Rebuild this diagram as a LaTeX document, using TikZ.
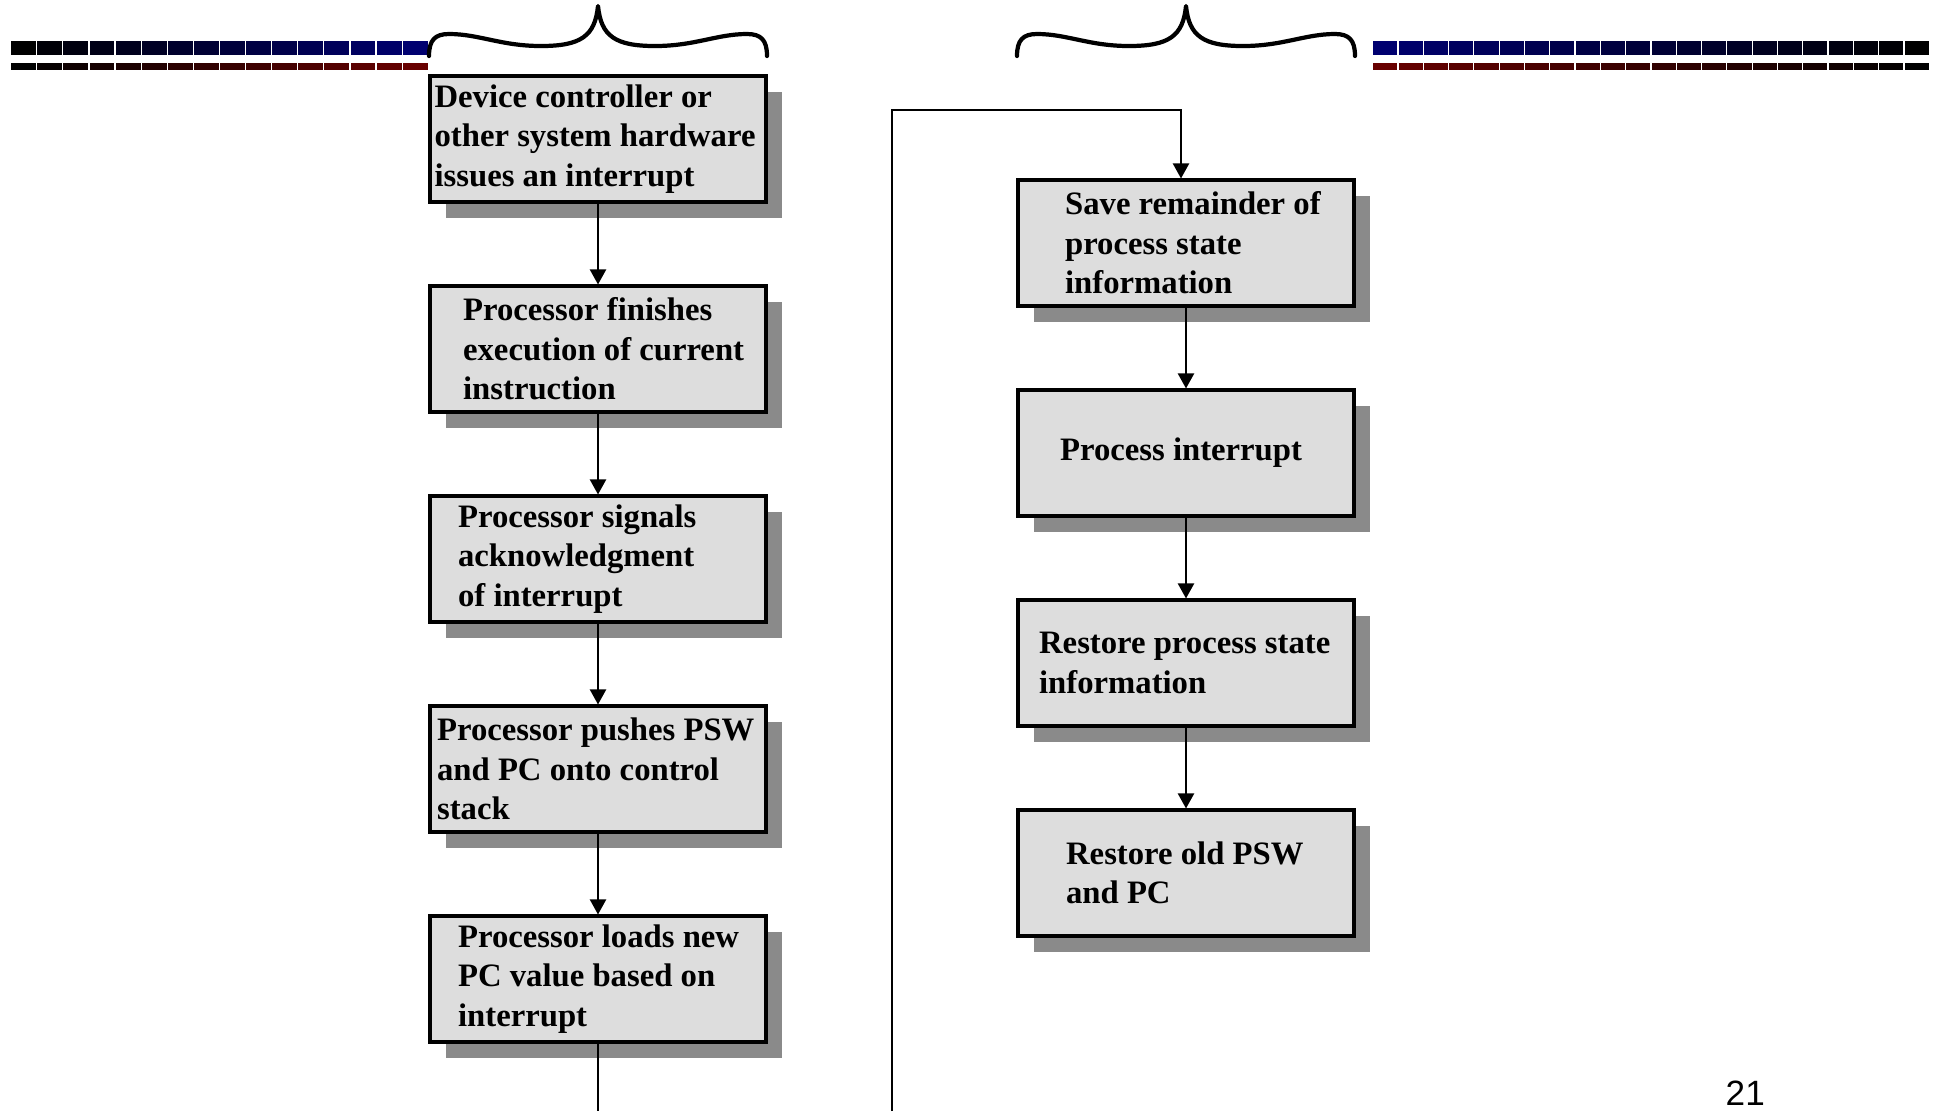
\documentclass[tikz,border=0pt]{standalone}
\usepackage{fontspec}
\setmainfont{Liberation Serif}
\newfontfamily\numfont{Liberation Sans}
\usetikzlibrary{arrows.meta,shadows,calc}

\definecolor{boxfill}{RGB}{221,221,221}
\definecolor{shadowgray}{RGB}{138,138,138}
\definecolor{barblue}{RGB}{0,0,112}
\definecolor{barred}{RGB}{104,0,0}

\begin{document}
\begin{tikzpicture}[x=0.01cm,y=-0.01cm,
  stepbox/.style={draw=black, line width=0.04cm, fill=boxfill,
    minimum width=3.35cm, minimum height=1.25cm, inner sep=0pt,
    drop shadow={shadow xshift=0.16cm, shadow yshift=-0.16cm, fill=shadowgray, opacity=1}},
  steptext/.style={anchor=west, align=left, inner sep=0pt,
    font=\fontsize{9.3pt}{11.2pt}\selectfont\bfseries},
  flow/.style={line width=0.6pt, -{Triangle[width=0.16cm,length=0.15cm]}},
  plain/.style={line width=0.6pt},
  bracestroke/.style={line width=1.2pt, line cap=round, line join=round}]

\useasboundingbox (0,0) rectangle (1939,1111);

% header bars: left pair fades from black to colour, right pair from colour to black
\foreach \i in {0,...,15}{
  \pgfmathtruncatemacro\p{100*\i/15}
  \fill[barblue!\p!black] ({10+\i*26.1+1.2},41) rectangle ({10+(\i+1)*26.1},55);
  \fill[barred!\p!black]  ({10+\i*26.1+1.2},63) rectangle ({10+(\i+1)*26.1},70);
}
\foreach \i in {0,...,21}{
  \pgfmathtruncatemacro\p{100-100*\i/21}
  \fill[barblue!\p!black] ({1372+\i*25.3+1.2},41) rectangle ({1372+(\i+1)*25.3},55);
  \fill[barred!\p!black]  ({1372+\i*25.3+1.2},63) rectangle ({1372+(\i+1)*25.3},70);
}

% curly braces over the two columns
\foreach \bx in {429,1017}{
  \begin{scope}[shift={(\bx,6)}]
    \draw[bracestroke] (0,50) .. controls (0,34) and (6,28) .. (20,28)
      .. controls (50,28) and (72,40) .. (112,40)
      .. controls (152,40) and (166,30) .. (169,0)
      .. controls (172,30) and (186,40) .. (226,40)
      .. controls (266,40) and (288,28) .. (318,28)
      .. controls (332,28) and (338,34) .. (338,50);
  \end{scope}
}

% left column
\node[stepbox] (b1) at (598,139) {};
\node[stepbox] (b2) at (598,349) {};
\node[stepbox] (b3) at (598,559) {};
\node[stepbox] (b4) at (598,769) {};
\node[stepbox] (b5) at (598,979) {};

% right column
\node[stepbox] (b6) at (1186,243) {};
\node[stepbox] (b7) at (1186,453) {};
\node[stepbox] (b8) at (1186,663) {};
\node[stepbox] (b9) at (1186,873) {};

% box texts
\node[steptext] (t1) at ($(b1.west)+(5.5,0)$) {Device controller or\\other system hardware\\issues an interrupt};
\node[steptext] (t2) at ($(b2.west)+(34,0)$) {Processor finishes\\execution of current\\instruction};
\node[steptext] (t3) at ($(b3.west)+(29,0)$) {Processor signals\\acknowledgment\\of interrupt};
\node[steptext] (t4) at ($(b4.west)+(8,0)$) {Processor pushes PSW\\and PC onto control\\stack};
\node[steptext] (t5) at ($(b5.west)+(29,0)$) {Processor loads new\\PC value based on\\interrupt};
\node[steptext] (t6) at ($(b6.west)+(48,0)$) {Save remainder of\\process state\\information};
\node[steptext] (t7) at ($(b7.west)+(43,0)$) {Process interrupt};
\node[steptext] (t8) at ($(b8.west)+(22,0)$) {Restore process state\\information};
\node[steptext] (t9) at ($(b9.west)+(49,0)$) {Restore old PSW\\and PC};

% connectors
\draw[flow] (b1.south) -- (b2.north);
\draw[flow] (b2.south) -- (b3.north);
\draw[flow] (b3.south) -- (b4.north);
\draw[flow] (b4.south) -- (b5.north);
\draw[flow] (b6.south) -- (b7.north);
\draw[flow] (b7.south) -- (b8.north);
\draw[flow] (b8.south) -- (b9.north);

\coordinate (lend) at (598,1111);
\draw[plain] (b5.south) -- (lend);

\coordinate (rstart) at (892,1111);
\coordinate (rtop) at (1181,110);
\draw[flow] (rstart) |- (rtop) -- (rtop |- b6.north);

% page number
\node[anchor=base west, inner sep=0pt, font=\numfont\fontsize{10pt}{12pt}\selectfont] (pg) at (1725,1105) {21};
\end{tikzpicture}
\end{document}
